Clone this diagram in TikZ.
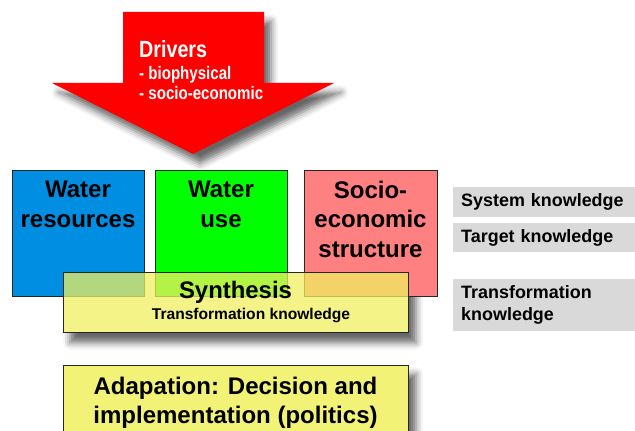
\documentclass[tikz,border=0pt]{standalone}
\usepackage{fontspec}
\setmainfont{Liberation Sans}
\usetikzlibrary{shapes,shadows.blur}
\pgfdeclarelayer{background}
\pgfsetlayers{background,main}

\definecolor{waterblue}{RGB}{0,142,226}
\definecolor{usegreen}{RGB}{0,255,0}
\definecolor{sociored}{RGB}{255,128,128}
\definecolor{synthyellow}{RGB}{240,240,95}
\definecolor{labelgray}{RGB}{217,217,217}

\tikzset{
  box/.style={draw=black!85, line width=1pt, anchor=north west, inner sep=0pt,
    minimum width=3.96cm, minimum height=3.78cm},
  boxtext/.style={font=\bfseries\fontsize{20.5}{25}\selectfont, align=center,
    anchor=north, inner sep=0pt},
  softshadow/.style={blur shadow={shadow xshift=6pt, shadow yshift=-8pt,
    shadow blur radius=6pt, shadow opacity=60}},
  knowledge/.style={fill=labelgray, anchor=north west, inner xsep=0.24cm,
    inner ysep=0pt, text width=4.98cm, align=left,
    font=\bfseries\fontsize{15.3}{18.5}\selectfont}
}

\begin{document}
\begin{tikzpicture}[x=0.03cm, y=-0.03cm]
        \useasboundingbox (0,0) rectangle (635,431);
        % Drivers arrow
        \fill [red, softshadow] (123,12) -- (264,12) -- (264,83) -- (334,83)
                -- (193,154) -- (52,83) -- (123,83) -- cycle;
        \node [white, font=\bfseries\fontsize{20}{24}\selectfont, anchor=north west, inner sep=0pt]
                (drivers) at (139,40) {\scalebox{0.84}[1]{Drivers}};
        \node [white, font=\bfseries\fontsize{15.5}{17}\selectfont, anchor=north west, inner sep=0pt, align=left]
                (driverlist) at (139,66.5) {\scalebox{0.83}[1]{- biophysical}\\\scalebox{0.83}[1]{- socio-economic}};
        % Three system boxes
        \node [box, fill=waterblue] (resources) at (12,170) {};
        \node [box, fill=usegreen] (use) at (155,170) {};
        \node [box, fill=sociored, minimum width=3.99cm] (socio) at (304,170) {};
        \node [boxtext] (resourceslabel) at (78,181) {Water\\resources};
        \node [boxtext] (uselabel) at (221,181) {Water\\use};
        \node [boxtext] (sociolabel) at (370.5,181) {Socio-\\economic\\structure};
        % Synthesis on top of the boxes
        \node [box, fill=synthyellow, fill opacity=0.75, minimum width=10.35cm,
                minimum height=1.8cm] (synthesis) at (63,272) {};
        \node [font=\bfseries\fontsize{20.4}{22}\selectfont, inner sep=0pt] (synthlabel) at (235.5,292) {Synthesis};
        \node [font=\bfseries\fontsize{13.3}{15}\selectfont, inner sep=0pt] (synthsub) at (251,316)
                {Transformation knowledge};
        % Adaptation
        \node [box, fill=synthyellow!85!white, minimum width=10.35cm,
                minimum height=2.4cm] (adaptation) at (63,365) {};
        \node [boxtext] (adaptlabel) at (235.5,377) {Adapation: Decision and\\implementation (politics)};
        % shadows behind the two yellow boxes
        \begin{pgfonlayer}{background}
                \fill [white, softshadow] (synthesis.north west) rectangle (synthesis.south east);
                \fill [white, softshadow] (adaptation.north west) rectangle (adaptation.south east);
        \end{pgfonlayer}
        % Knowledge labels
        \node [knowledge, minimum height=0.9cm] (system) at (453,187) {System knowledge};
        \node [knowledge, minimum height=0.87cm] (target) at (453,223) {Target knowledge};
        \node [knowledge, minimum height=1.56cm] (transformation) at (453,279) {Transformation\\knowledge};
\end{tikzpicture}
\end{document}
